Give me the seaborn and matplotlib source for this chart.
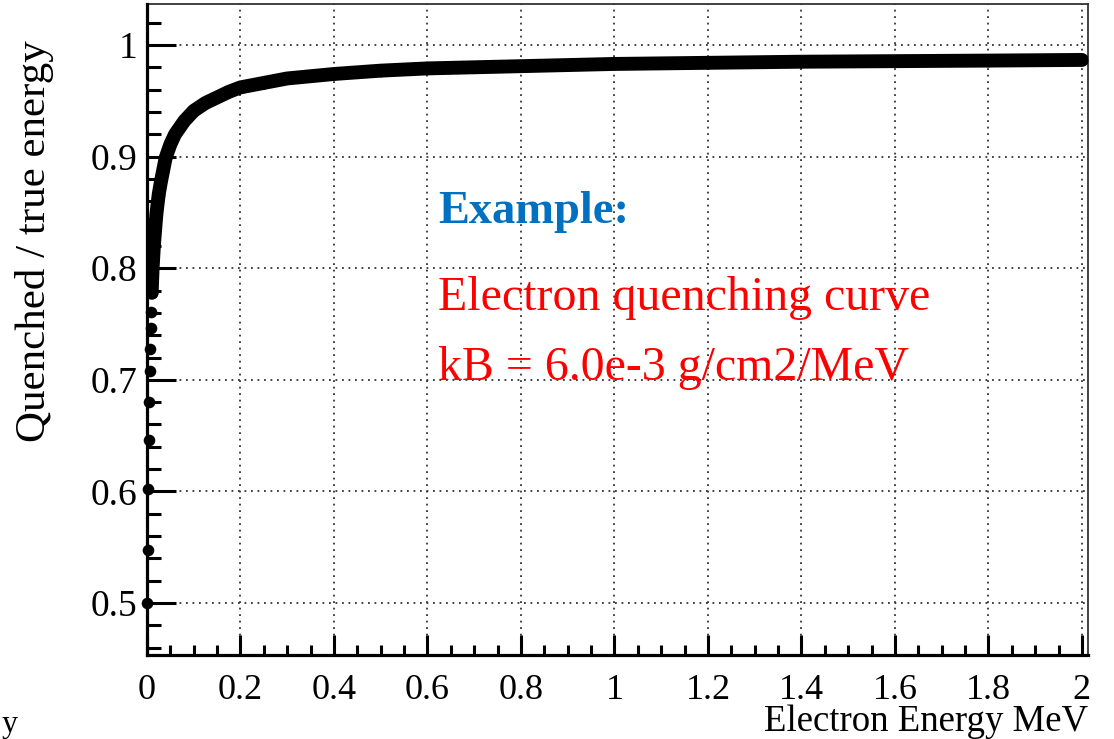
import matplotlib
matplotlib.use("Agg")
import matplotlib.pyplot as plt
from matplotlib.ticker import MultipleLocator, FuncFormatter
import pandas as pd
import seaborn as sns

# Electron kinetic energy (MeV) and ratio of quenched to true deposited energy
energy_mev = [0.001, 0.002, 0.003, 0.004, 0.005, 0.006, 0.007, 0.008, 0.009,
              0.010, 0.012, 0.015, 0.020, 0.025, 0.030, 0.040, 0.050, 0.060,
              0.080, 0.100, 0.125, 0.150, 0.175, 0.200, 0.250, 0.300, 0.350,
              0.400, 0.450, 0.500, 0.600, 0.700, 0.800, 0.900, 1.000, 1.200,
              1.400, 1.600, 1.800, 2.000]
quench_ratio = [0.500, 0.548, 0.602, 0.646, 0.680, 0.708, 0.728, 0.746, 0.761,
                0.778, 0.800, 0.822, 0.848, 0.866, 0.878, 0.899, 0.911, 0.920,
                0.932, 0.941, 0.948, 0.953, 0.958, 0.962, 0.966, 0.970, 0.972,
                0.974, 0.9755, 0.977, 0.979, 0.980, 0.981, 0.982, 0.983, 0.984,
                0.985, 0.9855, 0.986, 0.9866]

x_ticks = [0, 0.2, 0.4, 0.6, 0.8, 1.0, 1.2, 1.4, 1.6, 1.8, 2.0]
y_ticks = [0.5, 0.6, 0.7, 0.8, 0.9, 1.0]

note_title = "Example:"
note_lines = ["Electron quenching curve", "kB = 6.0e-3 g/cm2/MeV"]

df = pd.DataFrame({"E": energy_mev, "Q": quench_ratio})
dense = df[df["E"] >= 0.010]

sns.set_theme(style="white")
plt.rcParams["font.family"] = ["Liberation Serif", "DejaVu Serif"]
plt.rcParams["text.color"] = "black"
plt.rcParams["xtick.color"] = "black"
plt.rcParams["ytick.color"] = "black"

fig = plt.figure(figsize=(11.14, 7.39), dpi=100)
ax = fig.add_axes([147 / 1114, 1 - 655 / 739, (1088 - 147) / 1114, (655 - 4) / 739])

# densely sampled part of the curve drawn as a heavy band, plus the markers
sns.lineplot(data=dense, x="E", y="Q", ax=ax, color="black", linewidth=10,
             solid_capstyle="round", solid_joinstyle="round", zorder=3,
             estimator=None, sort=False)
sns.scatterplot(data=df, x="E", y="Q", ax=ax, color="black", s=70,
                edgecolor="black", linewidth=0, zorder=4, clip_on=False)

ax.set_xlim(0, 2.013)
ax.set_ylim(0.4535, 1.0367)

ax.set_xticks(x_ticks)
ax.set_yticks(y_ticks)
ax.xaxis.set_minor_locator(MultipleLocator(0.05))
ax.yaxis.set_minor_locator(MultipleLocator(0.02))
fmt = FuncFormatter(lambda v, p: ("%g" % round(v, 3)))
ax.xaxis.set_major_formatter(fmt)
ax.yaxis.set_major_formatter(fmt)

ax.grid(True, which="major", color="#333333", linestyle=(0, (1, 2.6)),
        linewidth=1.3)
ax.set_axisbelow(True)

ax.tick_params(axis="both", which="both", direction="in", colors="black",
               top=False, right=False, bottom=True, left=True)
ax.tick_params(axis="y", which="major", length=21, width=2.2, pad=7,
               labelsize=27)
ax.tick_params(axis="y", which="minor", length=10, width=2.2)
ax.tick_params(axis="x", which="major", length=14.5, width=2.2, pad=14,
               labelsize=26)
ax.tick_params(axis="x", which="minor", length=7.5, width=2.2)

for side in ("left", "bottom"):
    ax.spines[side].set_linewidth(2.3)
    ax.spines[side].set_color("black")
    ax.spines[side].set_zorder(5)
for side in ("top", "right"):
    ax.spines[side].set_linewidth(1.3)
    ax.spines[side].set_color("#333333")

ax.set_xlabel("")
ax.set_ylabel("")
fig.text(1088 / 1114, 1 - 731 / 739, "Electron Energy MeV", ha="right",
         va="baseline", fontsize=26.5)
fig.text(35 / 1114, 1 - 40 / 739, "Quenched / true energy", rotation=90,
         ha="center", va="top", fontsize=31)
fig.text(2 / 1114, 0, "y", ha="left", va="bottom", fontsize=23)

x0 = 0.6225
ax.text(x0, 0.8406, note_title, color="#0070C0", fontsize=33.5,
        fontweight="bold", va="baseline", ha="left")
ax.text(x0, 0.7628, note_lines[0], color="#FF0000", fontsize=34.5,
        va="baseline", ha="left")
ax.text(x0, 0.7001, note_lines[1], color="#FF0000", fontsize=34.5,
        va="baseline", ha="left")

fig.savefig("out.png", dpi=100, facecolor="white")
